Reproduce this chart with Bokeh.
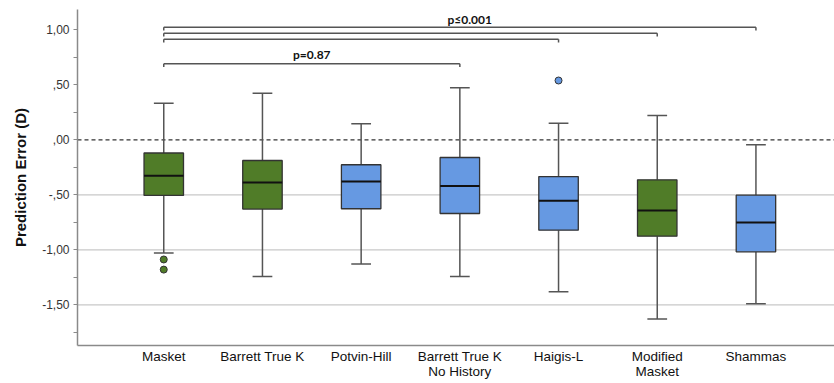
from bokeh.plotting import figure
from bokeh.models import FixedTicker, Span, ColumnDataSource
from bokeh.core.properties import value
from bokeh.embed import file_html
from bokeh.resources import INLINE

categories = ["Masket", "Barrett True K", "Potvin-Hill", "Barrett True K\nNo History",
              "Haigis-L", "Modified\nMasket", "Shammas"]
upper = [0.333, 0.424, 0.145, 0.473, 0.151, 0.221, -0.045]
q3 = [-0.120, -0.188, -0.227, -0.161, -0.334, -0.364, -0.503]
median = [-0.327, -0.388, -0.379, -0.421, -0.555, -0.643, -0.752]
q1 = [-0.506, -0.630, -0.627, -0.670, -0.822, -0.876, -1.018]
lower = [-1.030, -1.243, -1.130, -1.243, -1.382, -1.630, -1.490]
groups = ["green", "green", "blue", "blue", "blue", "green", "blue"]
outlier_cat = [0, 0, 4]
outlier_val = [-1.088, -1.180, 0.539]

# significance brackets: (from category, to category, level)
bracket_from = [0, 0, 0, 0]
bracket_to = [6, 5, 4, 3]
bracket_level = [1.024, 0.969, 0.915, 0.691]
p_labels = ["p\u22640.001", "p=0.87"]
p_label_x = [4.1, 2.5]
p_label_y = [1.095, 0.775]

COLORS = {"green": "#507c28", "blue": "#6699e2"}

xs = [i + 1 for i in range(len(categories))]
fill = [COLORS[g] for g in groups]

p = figure(width=834, height=383, output_backend="svg", toolbar_location=None,
           x_range=(0.126, 7.796), y_range=(-1.870, 1.1845),
           min_border_left=77, min_border_right=0, min_border_top=9, min_border_bottom=38)
p.outline_line_color = None
p.xgrid.visible = False
p.ygrid.visible = False

for v in [-0.5, -1.0, -1.5]:
    p.add_layout(Span(location=v, dimension="width", line_color="#c8c8c8", line_width=1.2, level="underlay"))
p.add_layout(Span(location=0.0, dimension="width", line_color="#333333", line_width=1.2,
                  line_dash="4 3", level="underlay"))

src = ColumnDataSource(dict(x=xs, upper=upper, q3=q3, median=median, q1=q1, lower=lower, fill=fill,
                            left=[x - 0.2 for x in xs], right=[x + 0.2 for x in xs],
                            cl=[x - 0.1 for x in xs], cr=[x + 0.1 for x in xs]))

# stems
p.segment(x0="x", y0="q3", x1="x", y1="upper", source=src, line_color="#555555", line_width=1.5)
p.segment(x0="x", y0="q1", x1="x", y1="lower", source=src, line_color="#555555", line_width=1.5)
# caps
p.segment(x0="cl", y0="upper", x1="cr", y1="upper", source=src, line_color="#555555", line_width=1.5)
p.segment(x0="cl", y0="lower", x1="cr", y1="lower", source=src, line_color="#555555", line_width=1.5)
# boxes
p.quad(left="left", right="right", top="q3", bottom="q1", source=src, fill_color="fill",
       line_color="#333333", line_width=1.3)
p.segment(x0="left", y0="median", x1="right", y1="median", source=src, line_color="#111111", line_width=2)

# outliers
p.scatter([xs[i] for i in outlier_cat], outlier_val, size=7,
          fill_color=[fill[i] for i in outlier_cat], line_color="#333333", line_width=1)

# brackets
tick = 0.03
bx0 = [xs[i] for i in bracket_from]
bx1 = [xs[i] for i in bracket_to]
p.segment(x0=bx0, y0=bracket_level, x1=bx1, y1=bracket_level, line_color="#555555", line_width=1.5)
p.segment(x0=bx0, y0=bracket_level, x1=bx0, y1=[b - tick for b in bracket_level], line_color="#555555", line_width=1.5)
p.segment(x0=bx1, y0=bracket_level, x1=bx1, y1=[b - tick for b in bracket_level], line_color="#555555", line_width=1.5)
p.text(x=p_label_x, y=p_label_y, text=p_labels, text_align="center", text_baseline="middle",
       text_font=value("Lato"), text_font_style="bold", text_font_size="12px", text_color="#111111")

# axes
p.xaxis.ticker = FixedTicker(ticks=xs)
p.xaxis.major_label_overrides = {x: c for x, c in zip(xs, categories)}
p.xaxis.major_tick_line_color = None
p.xaxis.minor_tick_line_color = None
p.xaxis.major_tick_in = 0
p.xaxis.major_tick_out = 0
p.xaxis.axis_line_color = "#8a8a8a"
p.xaxis.axis_line_width = 1.5
p.xaxis.major_label_text_font = "Liberation Sans"
p.xaxis.major_label_text_font_size = "13.5px"
p.xaxis.major_label_text_line_height = 1.05
p.xaxis.major_label_text_color = "#111111"
p.xaxis.major_label_standoff = 3

yt = [-1.5, -1.0, -0.5, 0.0, 0.5, 1.0]
p.yaxis.ticker = FixedTicker(ticks=yt, minor_ticks=[-1.75, -1.25, -0.75, -0.25, 0.25, 0.75])
p.yaxis.major_label_overrides = {-1.5: "-1,50", -1.0: "-1,00", -0.5: "-,50", 0.0: ",00", 0.5: ",50", 1.0: "1,00"}
p.yaxis.axis_line_color = "#8a8a8a"
p.yaxis.axis_line_width = 1.5
p.yaxis.major_tick_line_color = "#8a8a8a"
p.yaxis.minor_tick_line_color = "#8a8a8a"
p.yaxis.major_tick_in = 0
p.yaxis.major_tick_out = 4
p.yaxis.minor_tick_in = 0
p.yaxis.minor_tick_out = 4
p.yaxis.major_label_text_font = "Liberation Sans"
p.yaxis.major_label_text_font_size = "12px"
p.yaxis.major_label_text_color = "#333333"
p.yaxis.major_label_standoff = 4
p.yaxis.axis_label = "Prediction Error (D)"
p.yaxis.axis_label_text_font = "Liberation Sans"
p.yaxis.axis_label_text_font_style = "bold"
p.yaxis.axis_label_text_font_size = "15px"
p.yaxis.axis_label_text_color = "#111111"
p.yaxis.axis_label_standoff = 10

open("out.html", "w").write(file_html(p, INLINE))
